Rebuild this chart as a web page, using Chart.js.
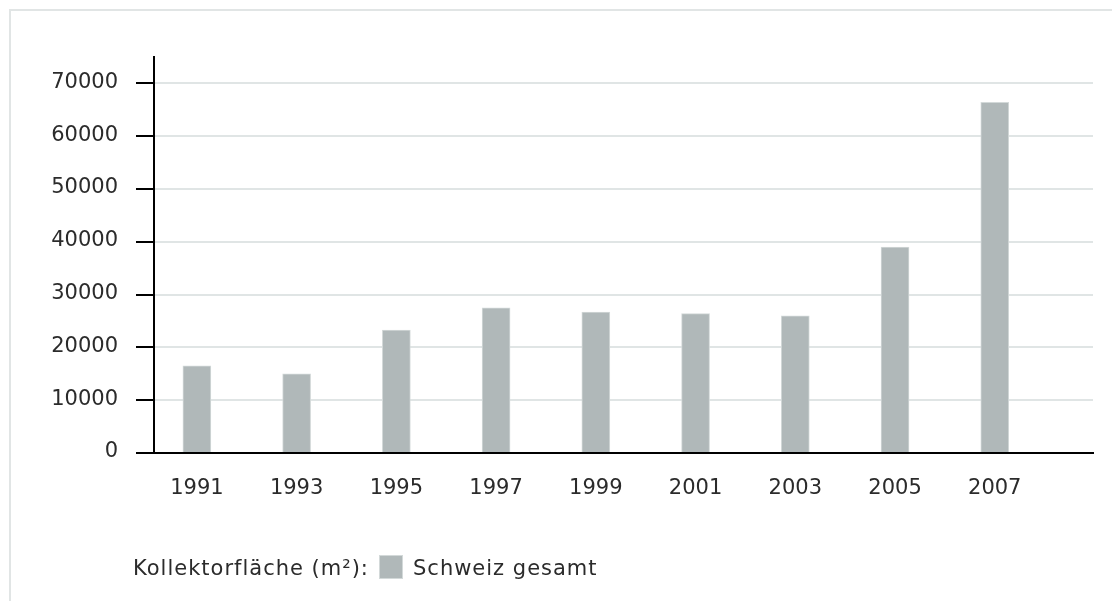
<!DOCTYPE html>
<html>
<head>
<meta charset="utf-8">
<script src="https://cdn.jsdelivr.net/npm/chart.js@4.4.1/dist/chart.umd.min.js"></script>
<style>
  body { margin: 0; background: #fff; overflow: hidden; }
  #frame { position: absolute; left: 9px; top: 9px; width: 1300px; height: 800px; border: 2px solid #e1e5e5; }
  #chart { position: absolute; left: 0; top: 0; }
  .lg { position: absolute; font: 21px "DejaVu Sans", sans-serif; color: #2b2b2b; line-height: 24px; white-space: nowrap; letter-spacing: 1px; }
  #lgbox { position: absolute; left: 379px; top: 555px; width: 22px; height: 22px; background: #b0b8b9; border: 1px solid #d3d9d9; }
</style>
</head>
<body>
<div id="frame"></div>
<canvas id="chart" width="1112" height="601"></canvas>
<div class="lg" style="left:133px; top:556px;">Kollektorfläche (m²):</div>
<div id="lgbox"></div>
<div class="lg" id="lgtext" style="left:413px; top:556px;"></div>
<script>
// Kollektorfläche Schweiz gesamt (m2)
const years = [1991, 1993, 1995, 1997, 1999, 2001, 2003, 2005, 2007];
const values = [16500, 15000, 23300, 27500, 26700, 26400, 26000, 39000, 66400];
const yTicks = [0, 10000, 20000, 30000, 40000, 50000, 60000, 70000];
const seriesName = 'Schweiz gesamt';

document.getElementById('lgtext').textContent = seriesName;

Chart.defaults.font.family = '"DejaVu Sans", sans-serif';
Chart.defaults.font.size = 21;
Chart.defaults.color = '#2b2b2b';

const ctx = document.getElementById('chart');
new Chart(ctx.getContext('2d'), {
  type: 'bar',
  data: {
    datasets: [{
      label: seriesName,
      data: years.map((y, i) => ({ x: y, y: values[i] })),
      backgroundColor: '#b0b8b9',
      borderColor: '#d3d9d9',
      borderWidth: 1,
      barThickness: 28
    }]
  },
  options: {
    responsive: false,
    animation: false,
    layout: { padding: { left: 0, right: 19, top: 57, bottom: 100 } },
    plugins: { legend: { display: false }, tooltip: { enabled: false } },
    scales: {
      x: {
        type: 'linear',
        min: 1990.14,
        max: 2008.97,
        offset: false,
        grid: { display: false, drawTicks: false },
        border: { display: true, color: '#000', width: 2 },
        ticks: { padding: 23, callback: v => String(v), maxRotation: 0 },
        afterBuildTicks: s => { s.ticks = years.map(v => ({ value: v })); },
        afterFit: s => { s.height = 48; }
      },
      y: {
        min: 0,
        max: 75000,
        grid: { color: '#e0e5e5', lineWidth: 2, tickLength: 18, tickColor: '#000', tickWidth: 2 },
        border: { display: true, color: '#000', width: 2 },
        ticks: { padding: 18, labelOffset: -1, callback: v => String(v) },
        afterBuildTicks: s => { s.ticks = yTicks.map(v => ({ value: v })); },
        afterFit: s => { s.width = 154; }
      }
    }
  }
});
</script>
</body>
</html>
